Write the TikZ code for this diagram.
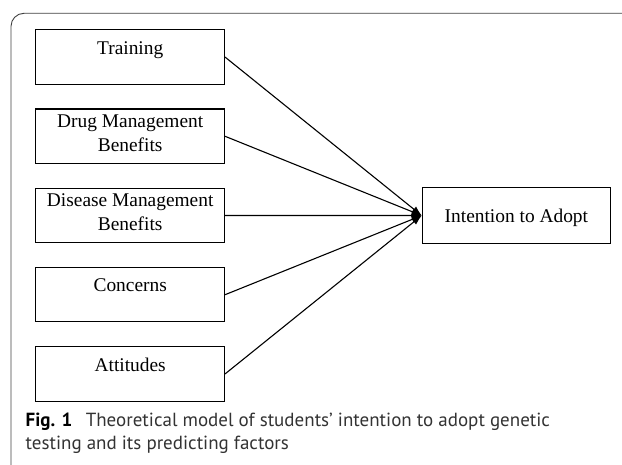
\documentclass[tikz,border=0pt]{standalone}
\usepackage{fontspec}
\setmainfont{Liberation Serif}
\newfontfamily\capfont{PT Sans}
\usetikzlibrary{arrows.meta}
\begin{document}
\begin{tikzpicture}[x=1pt,y=-1pt,
  factor/.style={draw, line width=1.1pt, minimum width=188.7pt, minimum height=54.5pt, inner sep=0pt, anchor=north west},
  boxtext/.style={font=\fontsize{19.4}{24}\selectfont, inner sep=0pt, anchor=base},
  link/.style={line width=1.1pt, -{Latex[length=10pt,width=7pt]}},
  frameline/.style={line width=0.9pt, draw=black!75, rounded corners=13pt},
  captext/.style={font=\capfont\fontsize{19}{22.5}\selectfont, text=black!80, inner sep=0pt, anchor=base west}
]
\useasboundingbox (0,0) rectangle (622,465);
% frame
\draw[frameline] (11,466) -- (11,13.3) -- (623,13.3);
% factor boxes
\node[factor] (b1) at (35.3,29.3) {};
\node[factor] (b2) at (35.3,108.5) {};
\node[factor] (b3) at (35.3,187.7) {};
\node[factor] (b4) at (35.3,266.9) {};
\node[factor] (b5) at (35.3,346.1) {};
\node[draw, line width=1.1pt, minimum width=188.3pt, minimum height=55.4pt, inner sep=0pt, anchor=north west] (goal) at (421.7,187.3) {};
% texts
\node[boxtext] (t1) at ([yshift=-25.5pt]b1.north) {Training};
\node[boxtext] (t2a) at ([yshift=-19pt]b2.north) {Drug Management};
\node[boxtext] (t2b) at ([yshift=-43pt]b2.north) {Benefits};
\node[boxtext] (t3a) at ([yshift=-19pt]b3.north) {Disease Management};
\node[boxtext] (t3b) at ([yshift=-43pt]b3.north) {Benefits};
\node[boxtext] (t4) at ([yshift=-25pt]b4.north) {Concerns};
\node[boxtext] (t5) at ([yshift=-25.5pt]b5.north) {Attitudes};
\node[boxtext] (tg) at ([yshift=-6.5pt]goal.center) {Intention to Adopt};
% connectors
\foreach \b in {b1,b2,b3,b4,b5}
  \draw[link] (\b.east) -- (goal.west);
% caption
\node[captext] (cap1) at (25.5,427) {\textcolor{black}{\textbf{Fig. 1}}\hspace{0.7em}Theoretical model of students’ intention to adopt genetic};
\node[captext] (cap2) at (25.5,449.5) {testing and its predicting factors};
\end{tikzpicture}
\end{document}
